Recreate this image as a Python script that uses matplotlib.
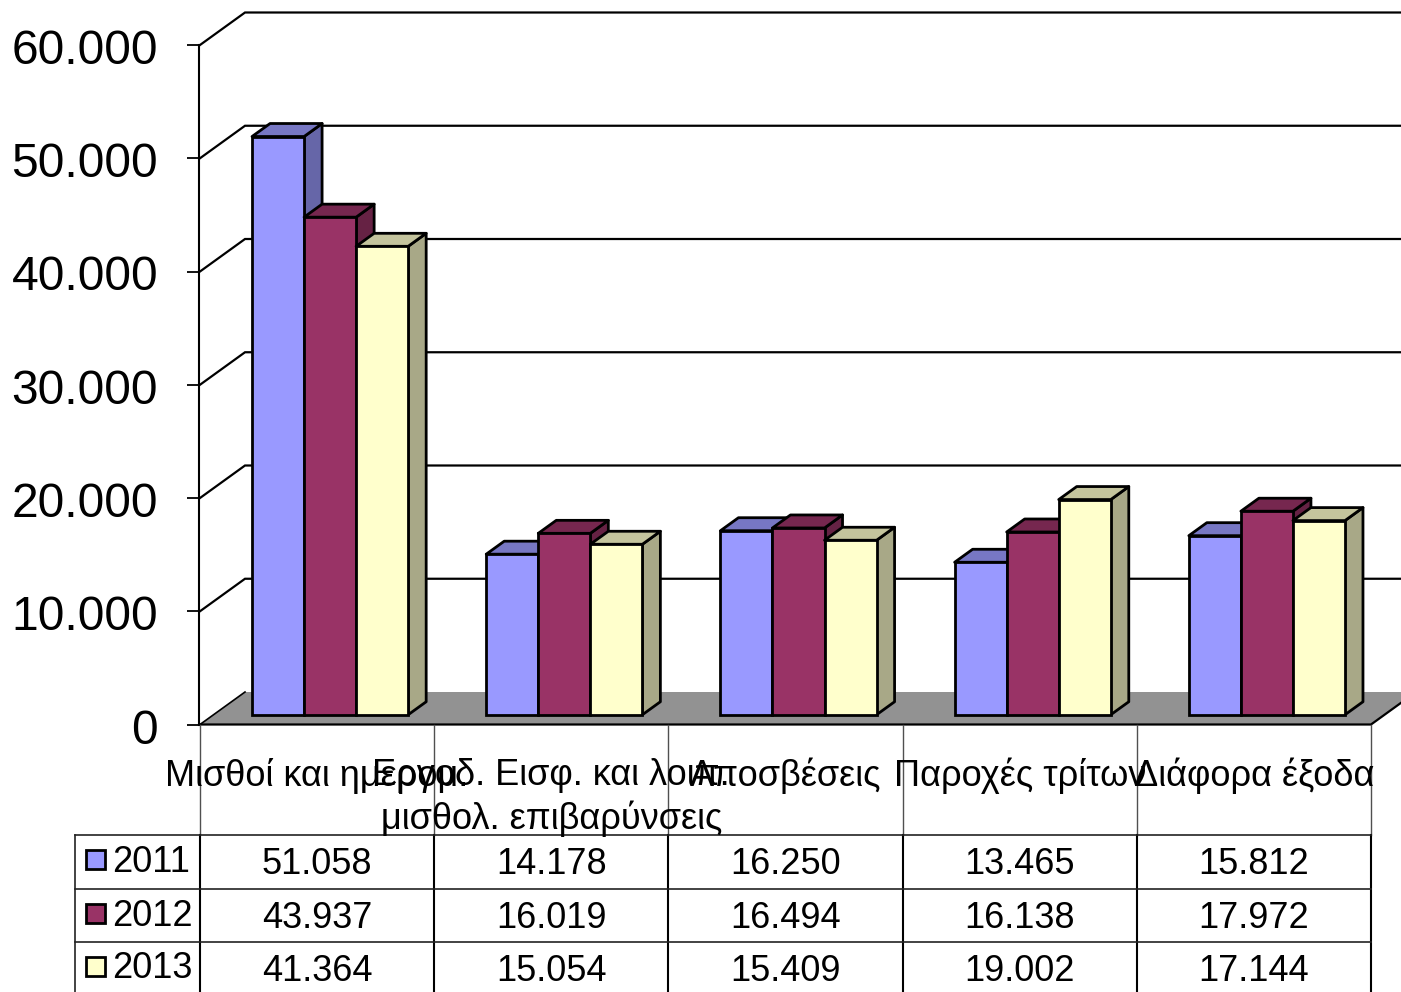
import numpy as np
import matplotlib
matplotlib.use("Agg")
import matplotlib.pyplot as plt
from matplotlib.transforms import ScaledTranslation

plt.rcParams['font.family'] = ['Liberation Sans', 'DejaVu Sans']

# Data
categories = ["Μισθοί και ημερομ.", "Εργοδ. Εισφ. και λοιπ.\nμισθολ. επιβαρύνσεις",
              "Αποσβέσεις", "Παροχές τρίτων", "Διάφορα έξοδα"]
years = ["2011", "2012", "2013"]
v2011 = [51058, 14178, 16250, 13465, 15812]
v2012 = [43937, 16019, 16494, 16138, 17972]
v2013 = [41364, 15054, 15409, 19002, 17144]
yticks = [0, 10000, 20000, 30000, 40000, 50000, 60000]

front_colors = ['#9999FF', '#993366', '#FFFFCC']
top_colors = ['#7777C4', '#76274F', '#C4C49D']
side_colors = ['#6666A8', '#662244', '#A8A887']

W, H = 1401, 992
fig = plt.figure(figsize=(W / 100, H / 100), dpi=100, facecolor='white')

# main axes covers the front plane of the chart
x0, x1, y_top, y_bot = 200, 1371, 45, 724.5
ax = fig.add_axes([x0 / W, 1 - y_bot / H, (x1 - x0) / W, (y_bot - y_top) / H])
ax.set_xlim(0, 5)
ax.set_ylim(0, 60000)
ax.patch.set_visible(False)
for s in ['top', 'right', 'bottom']:
    ax.spines[s].set_visible(False)
ax.spines['left'].set_linewidth(1.5)
ax.spines['left'].set_position(('outward', 0.7))
ax.set_xticks([])
ax.set_yticks(yticks)
ax.set_yticklabels([f"{t:,}".replace(",", ".") for t in yticks], fontsize=34.6)
ax.tick_params(axis='y', length=9, width=1.3, pad=20.5)
for lab in ax.get_yticklabels():
    lab.set_transform(lab.get_transform() + ScaledTranslation(0, -0.015, fig.dpi_scale_trans))

# pixel size of one unit on each axis
ux = (x1 - x0) / 5
uy = (y_bot - y_top) / 60000
depth_x, depth_y = 45 / ux, 32.5 / uy      # floor depth
bar_dx, bar_dy = 18 / ux, 13 / uy          # bar depth
off_y = (depth_y - bar_dy) / 2
bw = 1 / 4.5

# floor
ax.fill([0, depth_x, 5 + depth_x, 5], [0, depth_y, depth_y, 0], color='#929292',
        lw=0, zorder=1, clip_on=False)
ax.plot([0, 5, 5 + depth_x], [0, 0, depth_y], color='black', lw=1.6, zorder=2, clip_on=False)
ax.plot([0, depth_x], [0, depth_y], color='black', lw=1.2, zorder=2, clip_on=False)

# grid on side and back wall
for t in yticks[1:]:
    ax.plot([0, depth_x, 5 + depth_x], [t, t + depth_y, t + depth_y], color='black',
            lw=1.6, zorder=1, clip_on=False, solid_joinstyle='miter')

# bars, drawn left to right so later ones overlap
z = 3
for c in range(len(categories)):
    for s, vals in enumerate([v2011, v2012, v2013]):
        v = vals[c]
        xl = c + bw + s * bw
        xr = xl + bw
        yb = off_y
        yt = off_y + v
        ax.fill([xr, xr + bar_dx, xr + bar_dx, xr], [yb, yb + bar_dy, yt + bar_dy, yt],
                facecolor=side_colors[s], edgecolor='black', lw=2.0, zorder=z, clip_on=False,
                joinstyle='round')
        ax.fill([xl, xl + bar_dx, xr + bar_dx, xr], [yt, yt + bar_dy, yt + bar_dy, yt],
                facecolor=top_colors[s], edgecolor='black', lw=2.0, zorder=z, clip_on=False,
                joinstyle='round')
        ax.bar(xl, v, width=bw, bottom=yb, align='edge', facecolor=front_colors[s],
               edgecolor='black', lw=2.0, zorder=z, clip_on=False)
        z += 1

# table drawn on an overlay in pixel coordinates
tb = fig.add_axes([0, 0, 1, 1])
tb.set_xlim(0, W)
tb.set_ylim(H, 0)
tb.axis('off')
tb.patch.set_visible(False)

col_x = [x0 + ux * i for i in range(6)]
row_y = [835, 889, 942, 992]

for x in col_x:
    tb.plot([x, x], [y_bot, row_y[0]], color='#505050', lw=1.0, zorder=1)
    tb.plot([x, x], [row_y[0], H], color='black', lw=1.5, zorder=1)
tb.plot([75, 75], [row_y[0], H], color='#222222', lw=1.2)
for y in row_y[:3]:
    tb.plot([75, x1], [y, y], color='#222222', lw=1.2, zorder=1)

for i, name in enumerate(categories):
    tb.text(x0 + ux * (i + 0.5), 758, name, ha='center', va='top', fontsize=26,
            linespacing=1.26, color='black', zorder=5)

for r, (year, vals) in enumerate(zip(years, [v2011, v2012, v2013])):
    ymid = (row_y[r] + row_y[r] + 53) / 2
    tb.add_patch(plt.Rectangle((86, ymid - 11.5), 19, 19, facecolor=front_colors[r],
                               edgecolor='black', lw=2.0, zorder=3))
    tb.text(112, ymid + 0.5, year, ha='left', va='center', fontsize=26, zorder=5)
    for c, v in enumerate(vals):
        tb.text(x0 + ux * (c + 0.5), ymid + 3, f"{v:,}".replace(",", "."), ha='center',
                va='center', fontsize=26, zorder=5)

fig.savefig("out.png", dpi=100)
